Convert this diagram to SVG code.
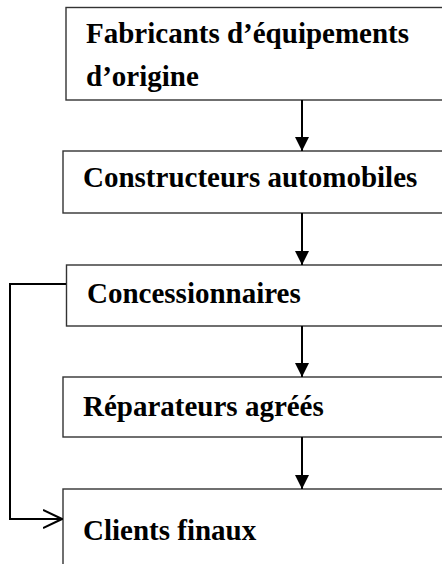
<svg xmlns="http://www.w3.org/2000/svg" width="442" height="564" viewBox="0 0 442 564">
  <style>
    .box { fill: #ffffff; stroke: #333333; stroke-width: 1.4; }
    .label { font-family: "Liberation Serif", "Times New Roman", serif; font-weight: bold; font-size: 29px; fill: #000000; }
    .link { fill: none; stroke: #000000; stroke-width: 2; }
  </style>
  <defs>
    <marker id="head" viewBox="0 0 14 14" markerWidth="14" markerHeight="14" refX="14" refY="7" orient="auto" markerUnits="userSpaceOnUse">
      <path d="M0,0 L14,7 L0,14 Z" fill="#000000"/>
    </marker>
    <marker id="open" viewBox="0 0 20 20" markerWidth="20" markerHeight="20" refX="19" refY="10" orient="auto" markerUnits="userSpaceOnUse">
      <path d="M0,1 L19,10 L0,19" fill="none" stroke="#000000" stroke-width="2"/>
    </marker>
  </defs>

  <rect width="442" height="564" fill="#ffffff"/>

  <!-- supply chain stages -->
  <g id="fabricants">
    <rect class="box" x="66" y="7.5" width="400" height="92.5"/>
    <text class="label" x="86" y="43">Fabricants d’équipements</text>
    <text class="label" x="86" y="86">d’origine</text>
  </g>
  <g id="constructeurs">
    <rect class="box" x="63" y="151" width="400" height="62"/>
    <text class="label" x="83" y="187">Constructeurs automobiles</text>
  </g>
  <g id="concessionnaires">
    <rect class="box" x="66.5" y="265" width="400" height="61"/>
    <text class="label" x="87" y="303">Concessionnaires</text>
  </g>
  <g id="reparateurs">
    <rect class="box" x="63" y="377" width="400" height="60"/>
    <text class="label" x="83" y="416">Réparateurs agréés</text>
  </g>
  <g id="clients">
    <rect class="box" x="63" y="489" width="400" height="100"/>
    <text class="label" x="83" y="540">Clients finaux</text>
  </g>

  <!-- flows between stages -->
  <g id="connectors">
    <line class="link" x1="302" y1="100" x2="302" y2="151" marker-end="url(#head)"/>
    <line class="link" x1="302" y1="213" x2="302" y2="265" marker-end="url(#head)"/>
    <line class="link" x1="302" y1="326" x2="302" y2="377" marker-end="url(#head)"/>
    <line class="link" x1="302" y1="437" x2="302" y2="489" marker-end="url(#head)"/>
    <path class="link" d="M66,284 H10 V519 H62" marker-end="url(#open)"/>
  </g>
</svg>
